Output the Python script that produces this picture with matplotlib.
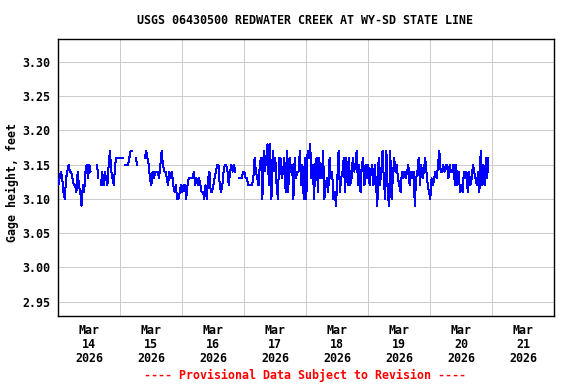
import numpy as np
import pandas as pd
import matplotlib
matplotlib.use("Agg")
import matplotlib.pyplot as plt

N = None
# Gage height in hundredths of a foot above 3.00 ft, 30-minute readings, per day
mar14 = [12, 13, 14, 13, 11, 10, 13, 14, 15, 14, 14, 13, 12, 12, 11, 14,
         12, 11, 9, 12, 11, 14, 15, 13, 15, 14, N, N, N, N, 15, 13,
         N, 12, 14, 12, 14, 13, 12, 15, 17, 14, 13, 12, 15, 16, 16, 16]
mar15 = [16, 16, 16, N, 15, 15, 15, 16, 17, 17, N, N, 16, 15, N, N,
         N, N, N, 16, 17, 16, 15, 13, 12, 14, 13, 14, 14, 14, 13, 15,
         17, 15, 14, 14, 13, 12, 14, 13, 14, 12, 11, 12, 10, 10, 11, 12]
mar16 = [11, 12, 12, 10, 12, 13, 13, 13, 13, 14, 12, 13, 12, 13, 12, 11,
         11, 10, 12, 10, 13, 14, 11, 11, 12, 13, 14, 15, 15, 12, 11, 12,
         14, 15, 15, 14, 12, 14, 15, 14, 15, 14, N, N, 13, 13, 13, 14]
mar17 = [14, 13, 13, 12, 12, 12, 12, 13, 16, 14, 13, 12, 15, 16, 10, 17,
         14, 16, 18, 12, 18, 10, 17, 14, 16, 12, 10, 16, 16, 13, 14, 16,
         11, 17, 11, 16, 14, 15, 10, 16, 13, 14, 14, 17, 12, 15, 10, 16]
mar18 = [10, 17, 16, 18, 13, 15, 10, 15, 16, 11, 16, 13, 13, 17, 10, 12,
         13, 11, 16, 13, 14, 10, 11, 9, 13, 17, 11, 13, 14, 16, 11, 16,
         12, 16, 12, 13, 16, 14, 15, 17, 12, 15, 11, 15, 16, 12, 15, 13]
mar19 = [15, 12, 14, 15, 12, 15, 12, 9, 16, 12, 14, 17, 13, 10, 17, 11,
         9, 17, 10, 13, 16, 14, 15, 13, 12, 11, 14, 13, 14, 13, 14, 15,
         12, 14, 13, 14, 9, 13, 14, 16, 12, 15, 13, 14, 16, 14, 12, 11]
mar20 = [10, 13, 12, 13, 14, 13, 15, 17, 14, 14, 15, 14, 15, 15, 13, 15,
         14, 14, 15, 12, 15, 12, 14, 11, 12, 11, 14, 13, 14, 11, 14, 12,
         13, 15, 14, 13, 12, 14, 11, 17, 12, 15, 12, 16, 13, 16]

title = "USGS 06430500 REDWATER CREEK AT WY-SD STATE LINE"
ylabel = "Gage height, feet"
footer = "---- Provisional Data Subject to Revision ----"
yticks = [2.95, 3.00, 3.05, 3.10, 3.15, 3.20, 3.25, 3.30]
day_labels = ["Mar\n14\n2026", "Mar\n15\n2026", "Mar\n16\n2026", "Mar\n17\n2026",
              "Mar\n18\n2026", "Mar\n19\n2026", "Mar\n20\n2026", "Mar\n21\n2026"]

hund = mar14 + mar15 + mar16 + mar17 + mar18 + mar19 + mar20
vals = np.array([np.nan if v is None else 3.0 + v / 100.0 for v in hund])
times = pd.date_range("2026-03-14 00:00", periods=len(vals), freq="30min")

font = "DejaVu Sans Mono"
fs = 8.4
px = 0.72  # one pixel in points at 100 dpi

fig = plt.figure(figsize=(5.76, 3.84), dpi=100)
ax = fig.add_axes([58.3 / 576, 1 - 316 / 384, 496 / 576, (316 - 39.3) / 384])

ax.plot(times, vals, color="#0000ff", lw=px, antialiased=False, zorder=3)

start = pd.Timestamp("2026-03-14")
end = pd.Timestamp("2026-03-22")
ax.set_xlim(start, end)
ax.set_ylim(2.9291, 3.3331)

noon = pd.date_range("2026-03-14 12:00", periods=8, freq="D")
mids = pd.date_range("2026-03-15", periods=7, freq="D")
ax.set_xticks(noon)
ax.set_xticklabels(day_labels, fontfamily=font, fontweight="bold",
                   fontsize=fs, linespacing=1.1)
ax.set_xticks(mids, minor=True)
ax.set_yticks(yticks)
ax.set_yticklabels([f"{v:.2f}" for v in yticks], fontfamily=font,
                   fontweight="bold", fontsize=fs)
ax.tick_params(axis="both", which="both", length=0)
ax.tick_params(axis="x", pad=6)
ax.tick_params(axis="y", pad=6)

ax.grid(True, axis="y", which="major", color="#cccccc", lw=px, antialiased=False)
ax.grid(True, axis="x", which="minor", color="#cccccc", lw=px, antialiased=False)
ax.grid(False, axis="x", which="major")
ax.set_axisbelow(True)
for s in ax.spines.values():
    s.set_color("black")
    s.set_linewidth(1.0)

fig.text(12 / 576, 1 - 183 / 384, ylabel, rotation=90, ha="center",
         va="center", fontfamily=font, fontweight="bold", fontsize=fs)
fig.text(305 / 576, 1 - 20 / 384, title, ha="center", va="center",
         fontfamily=font, fontweight="bold", fontsize=fs)
fig.text(305 / 576, 1 - 375 / 384, footer, ha="center", va="center",
         fontfamily=font, fontweight="bold", fontsize=fs, color="red")

fig.savefig("out.png", dpi=100)
